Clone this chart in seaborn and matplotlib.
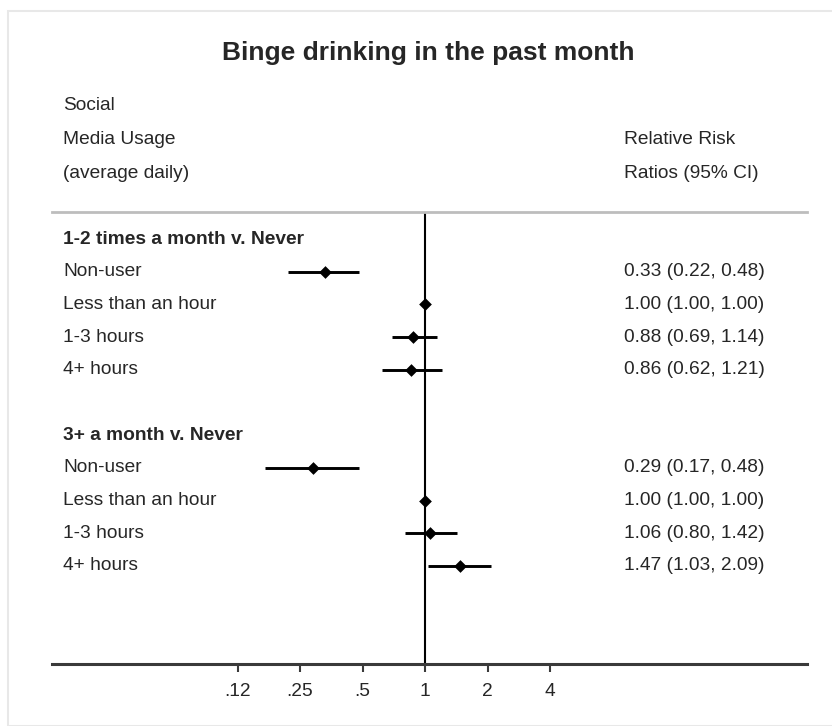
import numpy as np
import pandas as pd
import matplotlib
matplotlib.use("Agg")
import matplotlib.pyplot as plt
import matplotlib.transforms as mtransforms
from matplotlib.patches import Rectangle
import seaborn as sns

# ---- data -------------------------------------------------------------
title = "Binge drinking in the past month"
groups = ["1-2 times a month v. Never", "3+ a month v. Never"]
usage = ["Non-user", "Less than an hour", "1-3 hours", "4+ hours"]
rr_g1 = [0.33, 1.00, 0.88, 0.86]
lo_g1 = [0.22, 1.00, 0.69, 0.62]
hi_g1 = [0.48, 1.00, 1.14, 1.21]
rr_g2 = [0.29, 1.00, 1.06, 1.47]
lo_g2 = [0.17, 1.00, 0.80, 1.03]
hi_g2 = [0.48, 1.00, 1.42, 2.09]
xticks = [0.125, 0.25, 0.5, 1, 2, 4]
xtick_labels = [".12", ".25", ".5", "1", "2", "4"]

# row positions: group header, then its four usage rows, a blank row between groups
rows = []
for g, (rr, lo, hi) in enumerate([(rr_g1, lo_g1, hi_g1), (rr_g2, lo_g2, hi_g2)]):
    base = g * 6
    for i, lab in enumerate(usage):
        rows.append(dict(group=groups[g], label=lab, row=base + 1 + i,
                         rr=rr[i], lo=lo[i], hi=hi[i]))
df = pd.DataFrame(rows)

# ---- figure -----------------------------------------------------------
sns.set_style("white")
plt.rcParams["font.family"] = ["Liberation Sans", "DejaVu Sans"]
FS = 13.8

W, H = 832, 726
fig = plt.figure(figsize=(W / 100, H / 100), dpi=100)

# faint page frame
fig.patches.append(Rectangle((8 / W, 0), 1, 1 - 11 / H, transform=fig.transFigure,
                             fill=False, edgecolor="#e8e8e8", linewidth=1.5))

ax_l, ax_r, ax_t, ax_b = 52, 807, 212, 664
ax = fig.add_axes([ax_l / W, 1 - ax_b / H, (ax_r - ax_l) / W, (ax_b - ax_t) / H])

# log2 scale: x=1 at pixel 425, 62.5 px per doubling
px_per = 62.5
xmin = 2 ** ((ax_l - 425) / px_per)
xmax = 2 ** ((ax_r - 425) / px_per)
ax.set_xscale("log", base=2)
ax.set_xlim(xmin, xmax)

row_px0, row_step = 239.0, 32.7
ax.set_ylim((ax_b - row_px0) / row_step, (ax_t - row_px0) / row_step)

# confidence intervals and point estimates
ax.hlines(df["row"], df["lo"], df["hi"], color="black", linewidth=2.1, zorder=2)
sns.scatterplot(data=df, x="rr", y="row", marker="D", color="black",
                s=42, edgecolor="black", linewidth=0, ax=ax, zorder=3, legend=False)

# reference line at RR = 1
ax.axvline(1, color="black", linewidth=1.5, zorder=1)

# spines / ticks
for s in ["left", "right"]:
    ax.spines[s].set_visible(False)
ax.spines["top"].set_color("#bdbdbd")
ax.spines["top"].set_linewidth(2)
ax.spines["bottom"].set_color("#3a3a3a")
ax.spines["bottom"].set_linewidth(2.2)
ax.set_yticks([])
ax.set_xticks(xticks)
ax.set_xticklabels(xtick_labels, fontsize=FS)
ax.xaxis.set_minor_locator(matplotlib.ticker.NullLocator())
ax.tick_params(axis="x", direction="out", length=6, width=1.5, color="#3a3a3a",
               pad=8, bottom=True)
ax.set_xlabel("")
ax.set_ylabel("")

# row texts
trans = mtransforms.blended_transform_factory(ax.transAxes, ax.transData)
lx = (63 - ax_l) / (ax_r - ax_l)
rx = (624 - ax_l) / (ax_r - ax_l)
for g in range(2):
    ax.text(lx, g * 6, groups[g], transform=trans, ha="left", va="center",
            fontsize=FS, fontweight="bold")
for _, r in df.iterrows():
    ax.text(lx, r["row"], r["label"], transform=trans, ha="left", va="center",
            fontsize=FS)
    ax.text(rx, r["row"], f"{r['rr']:.2f} ({r['lo']:.2f}, {r['hi']:.2f})",
            transform=trans, ha="left", va="center", fontsize=FS)

# column headers
for y, t in [(105, "Social"), (139, "Media Usage"), (173, "(average daily)")]:
    fig.text(63 / W, 1 - y / H, t, ha="left", va="center", fontsize=FS)
for y, t in [(139, "Relative Risk"), (173, "Ratios (95% CI)")]:
    fig.text(624 / W, 1 - y / H, t, ha="left", va="center", fontsize=FS)

fig.text(428 / W, 1 - 53 / H, title, ha="center", va="center",
         fontsize=19, fontweight="bold")

fig.savefig("out.png", dpi=100, facecolor="white")
